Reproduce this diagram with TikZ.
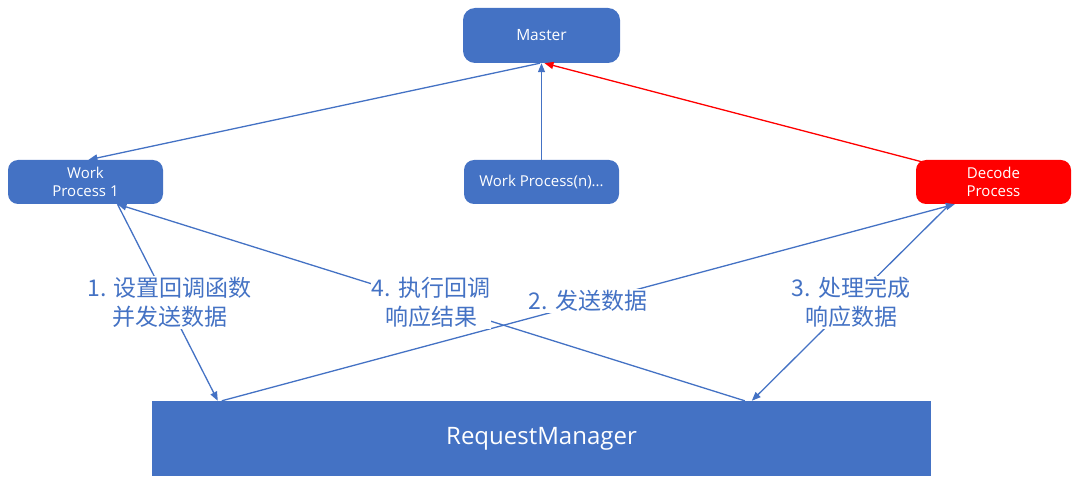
\documentclass[tikz,border=0pt]{standalone}
\usepackage{fontspec}
\setmainfont{Open Sans}
\newfontfamily\cjk{Noto Sans CJK SC}
\usetikzlibrary{arrows.meta}
\definecolor{pblue}{HTML}{4472C4}
\definecolor{pred}{HTML}{FF0000}
\begin{document}
\begin{tikzpicture}[x=1pt,y=-1pt,
  box/.style={fill=pblue, rounded corners=10pt, text=white, align=center, inner sep=0pt,
    minimum width=155pt, minimum height=44pt, font=\fontsize{15}{18.5}\selectfont},
  conn/.style={draw=pblue, line width=1.3pt, -{Triangle[length=9pt,width=7pt]}},
  lbl/.style={fill=white, text=pblue, font=\cjk\fontsize{23}{29}\selectfont, align=center, inner sep=1pt}
]
\useasboundingbox (0,0) rectangle (1080,484);
\node[box, minimum width=157pt, minimum height=55pt, rounded corners=12pt, font=\fontsize{15.5}{19}\selectfont] (master) at (541.5,35.5) {Master};
\node[box] (wp1) at (85.5,182) {Work\\Process 1};
\node[box] (wpn) at (541.5,182) {Work Process(n)...};
\node[box, fill=pred] (decode) at (993.5,182) {Decode\\Process};
\node[fill=pblue, minimum width=779pt, minimum height=75pt, inner sep=0pt, text=white, font=\fontsize{24}{28}\selectfont] (rm) at (541.5,438.5) {RequestManager};

\draw[conn] ([xshift=-1.5pt]master.south) -- ([xshift=3pt]wp1.north);
\draw[conn] (wpn.north) -- (master.south);
\draw[conn, draw=pred, fill=pred] ([xshift=6pt,yshift=-2pt]decode.north west) -- ([xshift=3pt]master.south);

\draw[conn] ([xshift=32pt]wp1.south) -- ([xshift=66pt]rm.north west);
\draw[conn] ([xshift=593pt]rm.north west) -- ([xshift=32pt]wp1.south);
\draw[conn] ([xshift=70pt]rm.north west) -- ([xshift=39pt]decode.south west);
\draw[conn] ([xshift=34pt]decode.south west) -- ([xshift=600pt]rm.north west);

\node[lbl] (l1) at (169.5,302.5) {1. 设置回调函数\\并发送数据};
\node[lbl] (l4) at (431,302.5) {4. 执行回调\\响应结果};
\node[lbl] (l2) at (588,301) {2. 发送数据};
\node[lbl] (l3) at (851,302.5) {3. 处理完成\\响应数据};
\end{tikzpicture}
\end{document}
